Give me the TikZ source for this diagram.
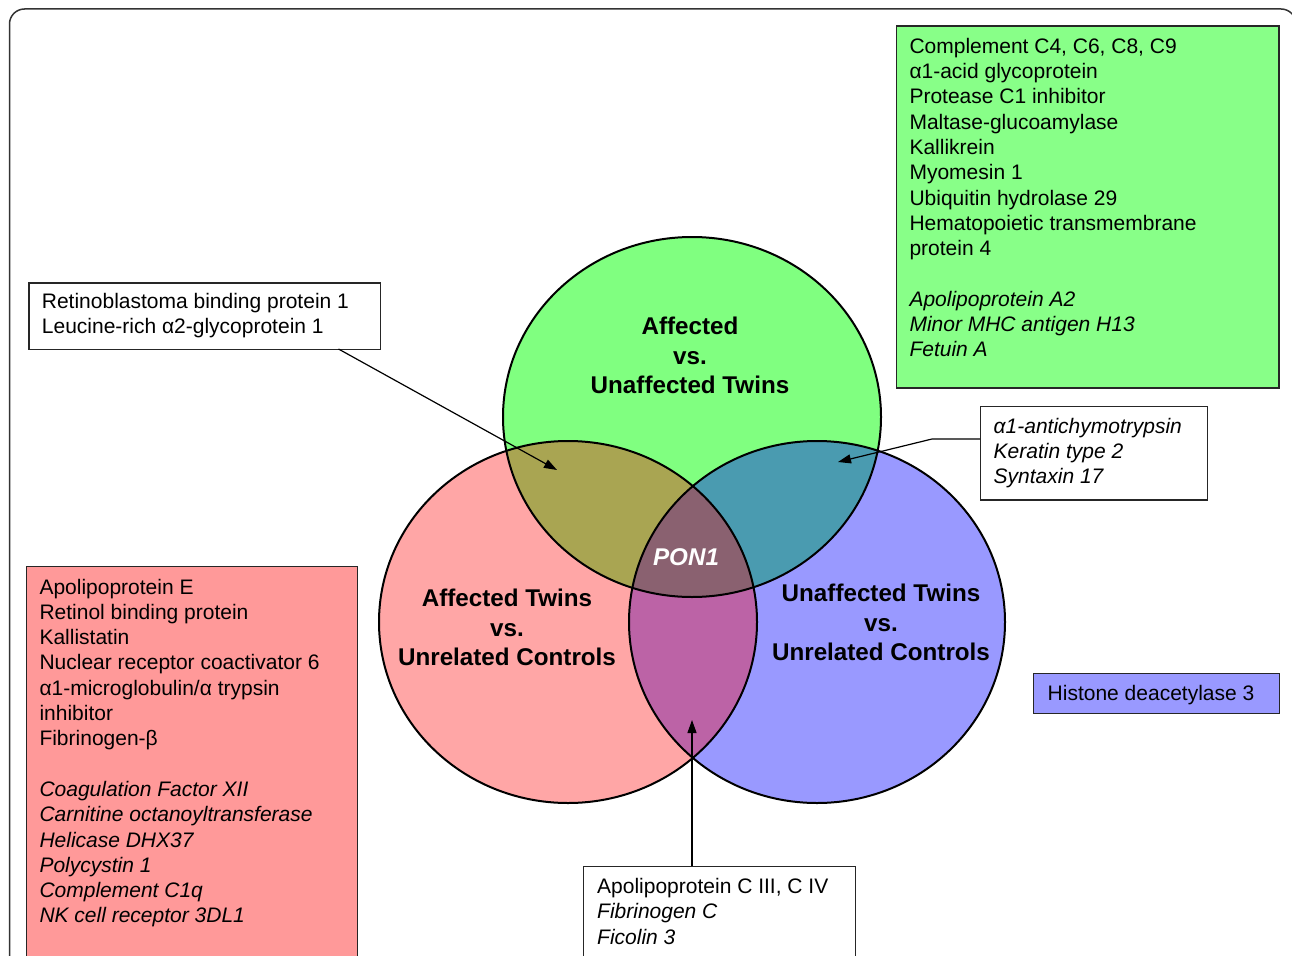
\documentclass[tikz,border=0pt]{standalone}
\usepackage{fontspec}
\setmainfont{Liberation Sans}
\usetikzlibrary{arrows.meta}
\definecolor{gfill}{HTML}{80FF80}
\definecolor{gbox}{HTML}{88FF88}
\definecolor{pfill}{HTML}{FFA6A6}
\definecolor{pbox}{HTML}{FF9999}
\definecolor{bfill}{HTML}{9999FF}
\definecolor{gp}{HTML}{A9A552}
\definecolor{gb}{HTML}{4A9BB0}
\definecolor{pb}{HTML}{BC63A6}
\definecolor{gpb}{HTML}{8A6170}
\definecolor{frame}{HTML}{333333}
\begin{document}
\begin{tikzpicture}[x=1pt,y=-1pt,
  listbox/.style={draw=black!85, line width=1.3pt, anchor=north west, inner sep=0pt},
  listtext/.style={anchor=base west, inner sep=0pt, font=\fontsize{21}{25.3}\selectfont},
  title/.style={anchor=base, inner sep=0pt, font=\fontsize{24.2}{29.5}\selectfont\bfseries},
  circ/.style={draw=black, line width=2pt},
  arr/.style={line width=1.2pt, -{Triangle[length=13pt,width=9pt]}}
]
\useasboundingbox (0,0) rectangle (1292,955);
% outer frame
\draw[frame, line width=1.5pt, rounded corners=15pt] (9.5,975) -- (9.5,9) -- (1296,9) -- (1296,975);

% Venn fills
\fill[gfill] (692,417) ellipse [x radius=189pt, y radius=180pt];
\fill[pfill] (568,622) ellipse [x radius=189pt, y radius=181pt];
\fill[bfill] (817,622) ellipse [x radius=188pt, y radius=181pt];
\begin{scope}
  \clip (692,417) ellipse [x radius=189pt, y radius=180pt];
  \fill[gp] (568,622) ellipse [x radius=189pt, y radius=181pt];
  \fill[gb] (817,622) ellipse [x radius=188pt, y radius=181pt];
\end{scope}
\begin{scope}
  \clip (568,622) ellipse [x radius=189pt, y radius=181pt];
  \fill[pb] (817,622) ellipse [x radius=188pt, y radius=181pt];
  \clip (692,417) ellipse [x radius=189pt, y radius=180pt];
  \fill[gpb] (817,622) ellipse [x radius=188pt, y radius=181pt];
\end{scope}
\draw[circ] (692,417) ellipse [x radius=189pt, y radius=180pt];
\draw[circ] (568,622) ellipse [x radius=189pt, y radius=181pt];
\draw[circ] (817,622) ellipse [x radius=188pt, y radius=181pt];

% circle titles
\node[title] (tg) at (690,334.6) {\parbox[t]{320pt}{\centering Affected\\ vs.\\ Unaffected Twins}};
\node[title] (tp) at (507,606.6) {\parbox[t]{320pt}{\centering Affected Twins\\ vs.\\ Unrelated Controls}};
\node[title] (tb) at (881,601.6) {\parbox[t]{320pt}{\centering Unaffected Twins\\ vs.\\ Unrelated Controls}};
\node[title, text=white, font=\fontsize{24.2}{29.5}\selectfont\bfseries\itshape] (pon) at (686,565.6) {PON1};

% green list box
\node[listbox, fill=gbox, minimum width=382.6pt, minimum height=362pt] (gbx) at (895.7,25.3) {};
\node[listtext] (gtx) at (909.3,53.3) {\parbox[t]{360pt}{\raggedright
Complement C4, C6, C8, C9\\
α1-acid glycoprotein\\
Protease C1 inhibitor\\
Maltase-glucoamylase\\
Kallikrein\\
Myomesin 1\\
Ubiquitin hydrolase 29\\
Hematopoietic transmembrane\\
protein 4\\[25.3pt]
\textit{Apolipoprotein A2}\\
\textit{Minor MHC antigen H13}\\
\textit{Fetuin A}}};

% retinoblastoma box
\node[listbox, fill=white, minimum width=351.7pt, minimum height=66.7pt] (rb) at (28.3,282.3) {};
\node[listtext] (rbt) at (41.7,308.3) {\parbox[t]{340pt}{\raggedright
Retinoblastoma binding protein 1\\
Leucine-rich α2-glycoprotein 1}};

% pink list box
\node[listbox, fill=pbox, minimum width=330.7pt, minimum height=420pt] (pbx) at (26,566) {};
\node[listtext] (ptx) at (39.3,594) {\parbox[t]{320pt}{\raggedright
Apolipoprotein E\\
Retinol binding protein\\
Kallistatin\\
Nuclear receptor coactivator 6\\
α1-microglobulin/α trypsin\\
inhibitor\\
Fibrinogen-β\\[25.3pt]
\textit{Coagulation Factor XII}\\
\textit{Carnitine octanoyltransferase}\\
\textit{Helicase DHX37}\\
\textit{Polycystin 1}\\
\textit{Complement C1q}\\
\textit{NK cell receptor 3DL1}}};

% antichymotrypsin box
\node[listbox, fill=white, minimum width=226.7pt, minimum height=93.6pt] (ac) at (980,405.7) {};
\node[listtext] (act) at (993.5,433.3) {\parbox[t]{220pt}{\raggedright\itshape
α1-antichymotrypsin\\
Keratin type 2\\
Syntaxin 17}};

% histone box
\node[listbox, fill=bfill, minimum width=246pt, minimum height=40pt] (hd) at (1033,672.7) {};
\node[listtext] (hdt) at (1047.5,700) {Histone deacetylase 3};

% bottom box
\node[listbox, fill=white, minimum width=272pt, minimum height=120pt] (bb) at (583,866) {};
\node[listtext] (bbt) at (597,893.5) {\parbox[t]{260pt}{\raggedright
Apolipoprotein C III, C IV\\
\textit{Fibrinogen C}\\
\textit{Ficolin 3}}};

% connectors
\coordinate (tipgp) at (557,470);
\coordinate (rbout) at (338.5,349);
\draw[arr] (rbout) -- (tipgp);

\coordinate (tipgb) at (838,462);
\coordinate (acout) at (980,439);
\coordinate (acbend) at (932,439);
\draw[arr] (acout) -- (acbend) -- (tipgb);

\coordinate (tippb) at (692,720);
\draw[arr] (tippb |- bb.north) -- (tippb);
\end{tikzpicture}
\end{document}
